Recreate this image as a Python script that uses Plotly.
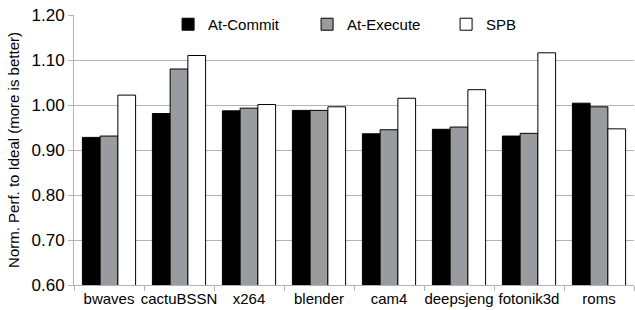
import plotly.graph_objects as go

categories = ["bwaves", "cactuBSSN", "x264", "blender", "cam4", "deepsjeng", "fotonik3d", "roms"]
at_commit = [0.928, 0.981, 0.987, 0.988, 0.936, 0.946, 0.931, 1.004]
at_execute = [0.931, 1.080, 0.993, 0.988, 0.945, 0.951, 0.937, 0.996]
spb = [1.022, 1.110, 1.001, 0.996, 1.015, 1.034, 1.116, 0.947]
y_ticks = [0.60, 0.70, 0.80, 0.90, 1.00, 1.10, 1.20]

series = [("At-Commit", at_commit, "#000000"),
          ("At-Execute", at_execute, "#999b9e"),
          ("SPB", spb, "#ffffff")]

fig = go.Figure()
for name, vals, color in series:
    fig.add_trace(go.Bar(x=categories, y=vals, name=name,
                         marker=dict(color=color, line=dict(color="#000000", width=1))))

font_family = "Liberation Sans, Arial, sans-serif"
fig.update_layout(
    width=635, height=310,
    margin=dict(l=74, r=1, t=15, b=25),
    paper_bgcolor="white", plot_bgcolor="white",
    barmode="group", bargap=0.24, bargroupgap=0,
    font=dict(family=font_family, size=15, color="#000000"),
    showlegend=True,
    legend=dict(orientation="h", x=0.168, xanchor="left", y=1.026, yanchor="top",
                font=dict(size=15), bgcolor="rgba(0,0,0,0)",
                entrywidth=94, entrywidthmode="pixels", itemwidth=30,
                tracegroupgap=0),
    xaxis=dict(showline=True, linecolor="#b3b3b3", linewidth=1,
               ticks="outside", tickson="boundaries", ticklen=5, tickcolor="#b3b3b3",
               showgrid=False, tickfont=dict(size=15), tickangle=0, automargin=False),
    yaxis=dict(range=[0.6, 1.2], tickvals=y_ticks, tickformat=".2f",
               showline=True, linecolor="#b3b3b3", linewidth=1,
               ticks="outside", ticklen=5, tickcolor="#b3b3b3",
               gridcolor="#b3b3b3", gridwidth=1, tickfont=dict(size=17),
               title=dict(text="Norm. Perf. to Ideal (more is better)", font=dict(size=15), standoff=8),
               automargin=False, zeroline=False),
)

fig.write_html("out.html", config={"displayModeBar": False},
               post_script="document.body.style.margin='0';")
